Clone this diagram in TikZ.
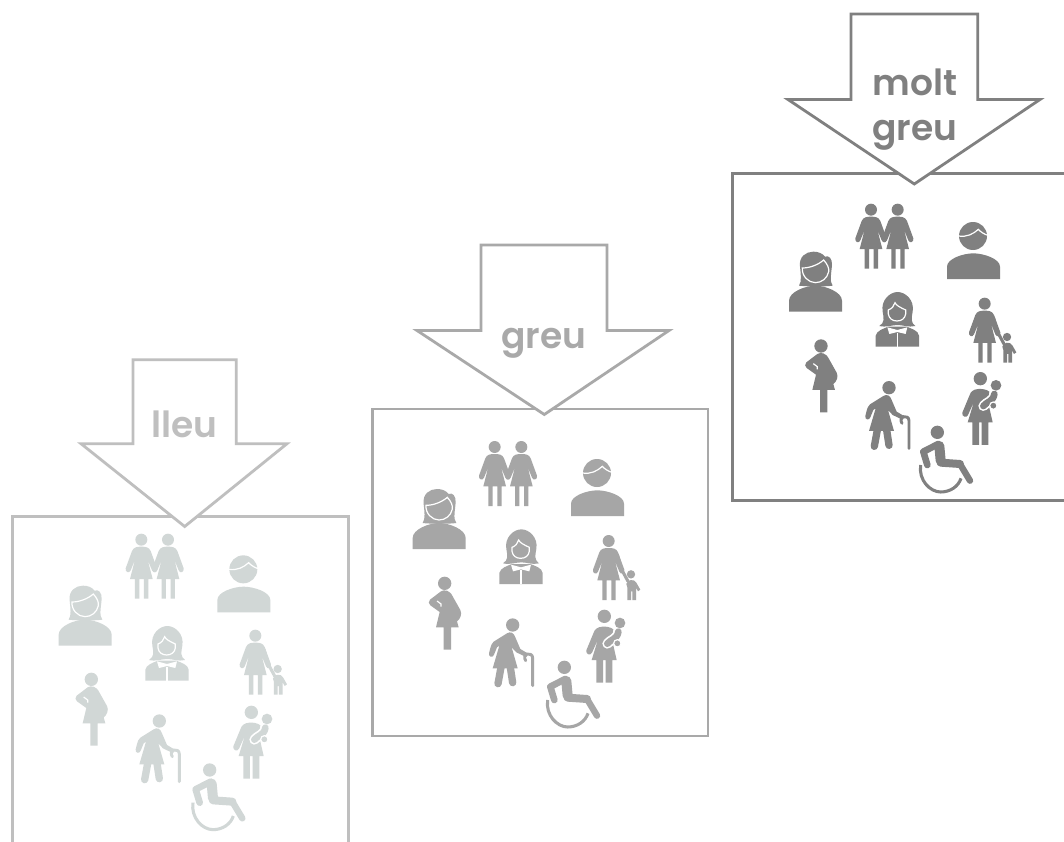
\documentclass[tikz,border=0pt]{standalone}
\usepackage{fontspec}
\setmainfont{Poppins}[BoldFont={Poppins SemiBold}]
\tikzset{
  frame/.style={line width=2.1pt,fill=white,line join=miter,miter limit=10},
  label/.style={font=\fontsize{27}{34}\selectfont\bfseries,align=center,inner sep=0pt},
  iconfill/.style={fill=iconc},
  limb/.style={draw=iconc,line cap=round,line join=round},
  whiteline/.style={draw=white,line width=.9pt},
  outlined/.style={fill=iconc,draw=white,line width=.9pt}
}
\colorlet{iconc}{gray}
% all icons in 3x pixel coordinates of the darkest group
\newcommand\wbody{(0,21) .. controls (-12,21) and (-23,22) .. (-28,34) -- (-47,86) .. controls (-49,98) and (-36,102) .. (-32,92) -- (-19,60) -- (-34,118) -- (-19,118) -- (-19,177) -- (-6,177) -- (-6,118) -- (8,118) -- (8,177) -- (21,177) -- (21,118) -- (34,118) -- (19,60) -- (32,92) .. controls (36,102) and (49,98) .. (47,86) -- (28,34) .. controls (23,22) and (12,21) .. (0,21) -- cycle}
\newcommand\iconCouple{
  \fill[iconfill] (423,119) circle[radius=18] (503,119) circle[radius=18];
  \fill[iconfill,shift={(423,119)}] \wbody;
  \fill[iconfill,shift={(503,119)}] \wbody;
}
\newcommand\iconMan{
  \fill[iconfill] (729,198) circle[radius=42];
  \draw[whiteline] (686,198) .. controls (710,202) and (730,192) .. (745,178) .. controls (752,186) and (762,192) .. (773,196);
  \fill[iconfill] (651,327) -- (651,290) .. controls (651,266) and (700,250) .. (730,250) .. controls (760,250) and (810,266) .. (810,290) -- (810,327) -- cycle;
}
\newcommand\iconWoman{
  \fill[iconfill] (207,347) .. controls (216,335) and (212,310) .. (210,290) .. controls (206,260) and (228,245) .. (250,245) .. controls (265,245) and (277,250) .. (285,260) .. controls (296,255) and (307,265) .. (306,285) .. controls (304,310) and (298,335) .. (308,347) .. controls (290,350) and (230,350) .. (207,347) -- cycle;
  \draw[outlined] (217,294) .. controls (240,294) and (265,284) .. (281,270) .. controls (292,282) and (298,295) .. (296,305) .. controls (292,325) and (275,338) .. (256,338) .. controls (235,338) and (215,318) .. (217,294) -- cycle;
  \fill[iconfill] (177,425) -- (177,392) .. controls (177,366) and (226,347) .. (256,347) .. controls (286,347) and (336,366) .. (336,392) -- (336,425) -- cycle;
}
\newcommand\iconGirl{
  \fill[iconfill] (448,468) .. controls (464,458) and (462,445) .. (458,425) .. controls (452,390) and (480,366) .. (503,366) .. controls (526,366) and (554,390) .. (548,425) .. controls (544,445) and (542,458) .. (556,468) .. controls (535,473) and (520,465) .. (503,465) .. controls (485,465) and (470,473) .. (448,468) -- cycle;
  \draw[outlined] (475,420) .. controls (486,416) and (492,408) .. (495,398) .. controls (498,406) and (510,412) .. (527,420) -- (527,432) .. controls (525,445) and (515,453) .. (501,453) .. controls (487,453) and (477,445) .. (475,432) -- cycle;
  \fill[iconfill] (437,530) -- (437,497) .. controls (440,482) and (460,476) .. (475,470) -- (530,470) .. controls (545,476) and (565,482) .. (567,497) -- (567,530) -- cycle;
  \fill[white] (472,472) -- (502,480) -- (532,472) -- (527,492) -- (502,486) -- (478,492) -- cycle;
  \draw[whiteline] (502,488) -- (502,530);
}
\newcommand\iconMother{
  \fill[iconfill] (764,401) circle[radius=18];
  \fill[iconfill,shift={(764,401)}] \wbody;
  \draw[limb,line width=2.3pt] (790,442) -- (802,485) -- (822,522);
  \fill[iconfill] (831,501) circle[radius=12.5];
  \fill[iconfill] (817,530) .. controls (818,516) and (842,514) .. (847,526) -- (859,547) -- (852,552) -- (846,541) -- (846,578) -- (835,578) -- (835,552) -- (831,552) -- (831,578) -- (820,578) -- (820,540) -- cycle;
}
\newcommand\iconPregnant{
  \fill[iconfill] (273,528) circle[radius=20];
  \fill[iconfill] (262,552) -- (229,577) .. controls (224,582) and (224,590) .. (230,594) -- (258,614) -- (247,660) -- (270,660) -- (270,727) -- (292,727) -- (292,660) -- (315,660) -- (310,642) .. controls (320,635) and (326,620) .. (320,608) -- (297,567) .. controls (288,548) and (272,546) .. (262,552) -- cycle;
  \draw[whiteline] (250,581) -- (262,590) -- (262,598);
}
\newcommand\iconOld{
  \fill[iconfill] (477,653) circle[radius=20];
  \fill[iconfill] (460,678) -- (420,703) .. controls (414,708) and (412,715) .. (410,722) -- (406,738) .. controls (404,750) and (418,752) .. (421,742) -- (430,720) -- (437,715) -- (417,783) -- (492,783) -- (474,720) -- (488,735) -- (515,748) -- (522,738) -- (500,725) -- (485,690) .. controls (480,675) and (470,672) .. (460,678) -- cycle;
  \draw[limb,line width=5.5pt] (442,780) -- (433,829);
  \draw[limb,line width=5.5pt] (470,780) -- (477,826);
  \draw[limb,line width=2.2pt] (537,835) -- (537,752) .. controls (537,742) and (528,738) .. (520,740) .. controls (512,743) and (511,752) .. (516,760);
}
\newcommand\iconBaby{
  \fill[iconfill] (751,626) circle[radius=20];
  \fill[iconfill] (745,657) .. controls (730,658) and (722,665) .. (719,675) -- (697,728) .. controls (694,740) and (710,745) .. (714,735) -- (732,695) -- (713,757) -- (727,757) -- (727,825) -- (747,825) -- (747,757) -- (755,757) -- (755,825) -- (775,825) -- (775,757) -- (788,757) -- (775,700) -- (778,665) .. controls (770,658) and (755,656) .. (745,657) -- cycle;
  \draw[white,line width=7.5pt,line cap=round] (793,672) .. controls (790,695) and (770,695) .. (760,708);
  \draw[limb,line width=5pt] (793,672) .. controls (790,695) and (770,695) .. (760,708);
  \fill[iconfill] (798,646) circle[radius=16];
  \fill[outlined] (790,707) circle[radius=11];
}
\newcommand\iconChair{
  \fill[iconfill] (622,787) circle[radius=20];
  \draw[limb,line width=5pt] (625,822) -- (580,845) -- (592,885);
  \draw[limb,line width=7.5pt] (628,828) -- (632,872);
  \draw[limb,line width=6pt] (632,878) -- (690,882);
  \draw[limb,line width=4.8pt] (690,882) -- (720,932);
  \draw[draw=iconc,line width=2.3pt] (572,885) .. controls (565,930) and (600,966) .. (632,966) .. controls (660,966) and (685,950) .. (693,925);
}
\newcommand\place[3]{\begin{scope}[shift={(#1,#2)}]#3\end{scope}}
\begin{document}
\begin{tikzpicture}[x=.75pt,y=-.75pt]
\useasboundingbox (0,0) rectangle (1064,842);
\clip (0,0) rectangle (1064,842);
\fill[white] (0,0) rectangle (1064,842);

% light group
\begin{scope}
\definecolor{iconc}{HTML}{D1D7D6}
\definecolor{lc}{HTML}{BFBFBF}
\draw[frame,draw=lc] (12.7,516.7) rectangle (348.3,845);
\begin{scope}[shift={(10,510)},scale=.33333]
\place{-29}{-30}{\iconCouple}
\place{-29}{-20}{\iconMan}
\place{-31}{-18}{\iconWoman}
\place{-31}{-18}{\iconGirl}
\place{-28}{-24}{\iconMother}
\place{-29}{-20}{\iconPregnant}
\place{-29}{-20}{\iconOld}
\place{-27}{-19}{\iconBaby}
\place{-23}{-7}{\iconChair}
\end{scope}
\draw[frame,draw=lc] (133,359.7) -- (236.3,359.7) -- (236.3,443.7) -- (287,443.7) -- (184.7,526.5) -- (81,443.7) -- (133,443.7) -- cycle;
\node[label,text=lc] (lleu) at (184.7,424) {lleu};
\end{scope}

% middle group
\begin{scope}
\definecolor{iconc}{HTML}{A6A6A6}
\definecolor{mc}{HTML}{A9A9A9}
\draw[frame,draw=mc] (372.3,409) rectangle (708,736);
\begin{scope}[shift={(370,405)},scale=.33333]
\place{-49}{7}{\iconCouple}
\place{-48}{6}{\iconMan}
\place{-49}{7}{\iconWoman}
\place{-49}{7}{\iconGirl}
\place{-48}{7}{\iconMother}
\place{-49}{7}{\iconPregnant}
\place{-49}{7}{\iconOld}
\place{-48}{8}{\iconBaby}
\place{-39}{0}{\iconChair}
\end{scope}
\draw[frame,draw=mc] (481,245) -- (607,245) -- (607,330.5) -- (669,330.5) -- (544.3,414.5) -- (417,330.5) -- (481,330.5) -- cycle;
\node[label,text=mc] (greu) at (543.7,343) {greu};
\end{scope}

% dark group
\begin{scope}
\definecolor{iconc}{HTML}{808080}
\definecolor{dc}{HTML}{808080}
\draw[frame,draw=dc] (732.7,173.7) rectangle (1068.7,500.5);
\begin{scope}[shift={(730,170)},scale=.33333]
\iconCouple \iconMan \iconWoman \iconGirl \iconMother \iconPregnant \iconOld \iconBaby \iconChair
\end{scope}
\draw[frame,draw=dc] (851,14) -- (977.7,14) -- (977.7,99.5) -- (1040,99.5) -- (914.3,184) -- (788,99.5) -- (851,99.5) -- cycle;
\node[label,text=dc] (moltgreu) at (915,109.5) {molt\\greu};
\end{scope}
\end{tikzpicture}
\end{document}
